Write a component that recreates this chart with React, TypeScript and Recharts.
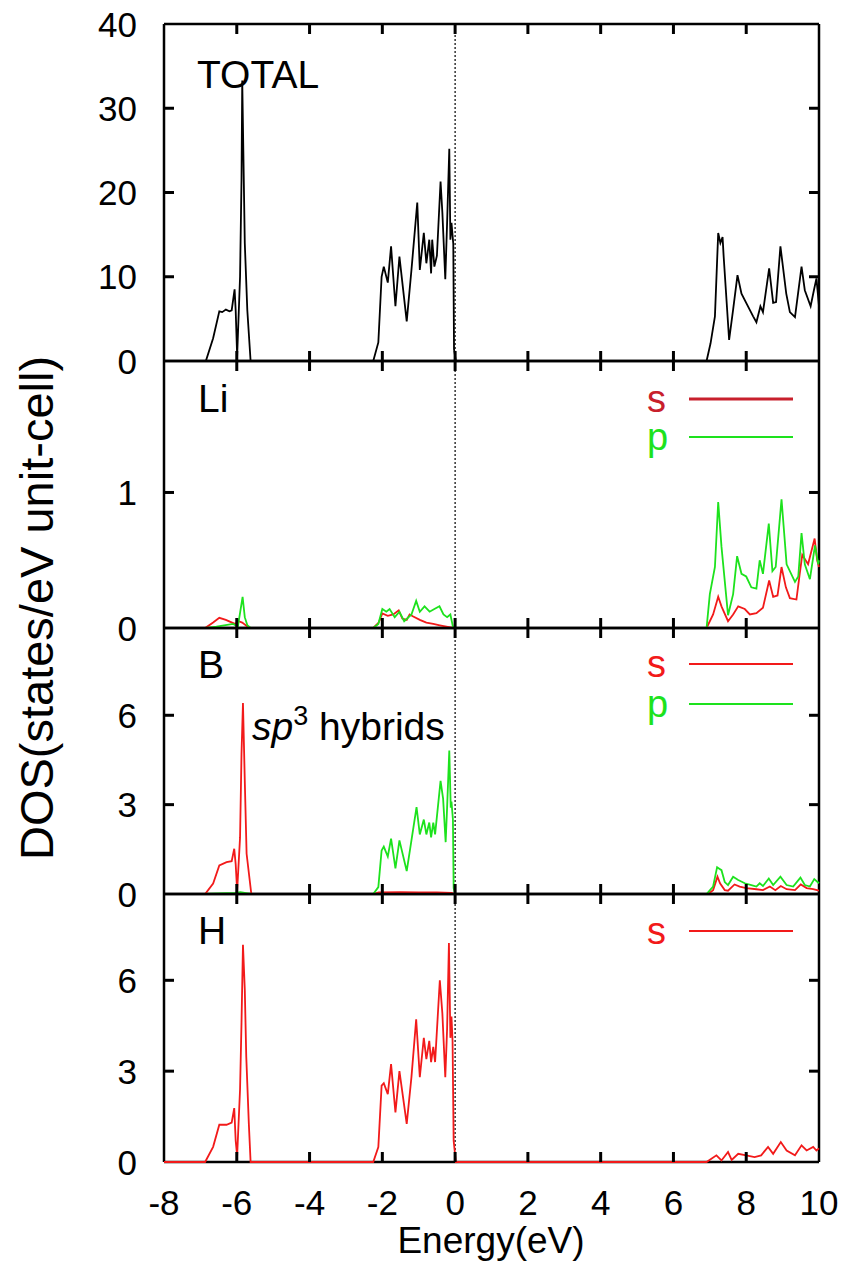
import { LineChart, Line, XAxis, YAxis, ReferenceLine } from 'recharts';

type Pt = [number, number];

// energy axis (eV)
const energyTicks = [-8, -6, -4, -2, 0, 2, 4, 6, 8, 10];
const totalTicks = [0, 10, 20, 30, 40];
const liTicks = [0, 1];
const bTicks = [0, 3, 6];
const hTicks = [0, 3, 6];

// total DOS [energy, states/eV]
const totalDos: Pt[] = [
  [-8, 0], [-6.85, 0], [-6.65, 2.7], [-6.48, 5.9], [-6.4, 5.8], [-6.3, 6.1], [-6.2, 5.9], [-6.14, 6.0],
  [-6.06, 8.5], [-6.03, 6.0], [-5.99, 0.6], [-5.91, 10], [-5.87, 21.5], [-5.85, 33.3], [-5.82, 25], [-5.78, 14],
  [-5.71, 6], [-5.62, 0], [-2.25, 0], [-2.11, 2.2], [-2.02, 10], [-1.96, 11.2], [-1.85, 9.3], [-1.76, 13.6],
  [-1.64, 6.5], [-1.53, 12.4], [-1.33, 4.7], [-1.2, 10.8], [-1.04, 18.8], [-0.97, 10.8], [-0.86, 15.2], [-0.79, 11.6],
  [-0.71, 14.4], [-0.66, 10.4], [-0.63, 14.4], [-0.57, 11.2], [-0.5, 12.5], [-0.4, 21.3], [-0.35, 17.6], [-0.27, 9.7],
  [-0.22, 16.4], [-0.16, 25.2], [-0.13, 14.4], [-0.1, 16.4], [-0.05, 13.9], [-0.03, 1.4], [0.02, 0], [6.91, 0],
  [7.02, 2.1], [7.14, 5.3], [7.23, 15.2], [7.29, 14], [7.35, 14.7], [7.38, 12.4], [7.53, 2.5], [7.64, 6.1],
  [7.76, 10.2], [7.87, 8], [8.01, 6.8], [8.19, 5.3], [8.28, 4.6], [8.39, 6.5], [8.46, 5.8], [8.63, 11],
  [8.74, 6.9], [8.82, 7], [8.94, 13.6], [9.1, 8], [9.2, 5.8], [9.34, 5.2], [9.52, 11.2], [9.61, 8.4],
  [9.77, 6.5], [9.86, 8.4], [9.93, 9.8], [10, 6.5],
];

const liS: Pt[] = [
  [-8, 0], [-6.87, 0], [-6.65, 0.04], [-6.48, 0.075], [-6.3, 0.06], [-6.05, 0.03], [-5.95, 0.05], [-5.85, 0.04],
  [-5.7, 0.01], [-5.62, 0], [-2.25, 0], [-2.1, 0.04], [-2.0, 0.107], [-1.85, 0.09], [-1.7, 0.1], [-1.55, 0.13],
  [-1.45, 0.07], [-1.33, 0.06], [-1.25, 0.1], [-1.15, 0.085], [-0.97, 0.06], [-0.79, 0.04], [-0.6, 0.03], [-0.42, 0.02],
  [-0.24, 0.01], [-0.05, 0], [6.91, 0], [7.09, 0.1], [7.23, 0.23], [7.32, 0.16], [7.5, 0.05], [7.64, 0.1],
  [7.78, 0.16], [7.96, 0.14], [8.1, 0.1], [8.28, 0.11], [8.46, 0.15], [8.63, 0.35], [8.74, 0.23], [8.86, 0.24],
  [8.97, 0.45], [9.09, 0.3], [9.2, 0.22], [9.38, 0.21], [9.47, 0.4], [9.54, 0.54], [9.7, 0.47], [9.88, 0.66],
  [9.95, 0.5], [10, 0.45],
];

const liP: Pt[] = [
  [-8, 0], [-6.85, 0], [-6.56, 0.01], [-6.1, 0.03], [-5.97, 0.01], [-5.84, 0.23], [-5.78, 0.08], [-5.71, 0.02],
  [-5.62, 0], [-2.25, 0], [-2.11, 0.03], [-2.0, 0.14], [-1.89, 0.12], [-1.8, 0.14], [-1.66, 0.08], [-1.53, 0.12],
  [-1.4, 0.05], [-1.2, 0.1], [-1.07, 0.2], [-0.97, 0.12], [-0.84, 0.16], [-0.7, 0.12], [-0.57, 0.14], [-0.43, 0.16],
  [-0.32, 0.1], [-0.22, 0.08], [-0.13, 0.1], [-0.06, 0.01], [0, 0], [6.91, 0], [7.0, 0.25], [7.14, 0.45],
  [7.23, 0.93], [7.32, 0.6], [7.5, 0.094], [7.64, 0.25], [7.75, 0.53], [7.87, 0.4], [8.0, 0.38], [8.14, 0.3],
  [8.28, 0.29], [8.37, 0.5], [8.46, 0.4], [8.62, 0.77], [8.72, 0.42], [8.81, 0.45], [8.97, 0.95], [9.11, 0.47],
  [9.34, 0.34], [9.43, 0.38], [9.52, 0.7], [9.61, 0.47], [9.75, 0.36], [9.89, 0.61], [9.98, 0.47], [10, 0.5],
];

const bS: Pt[] = [
  [-8, 0], [-6.87, 0], [-6.65, 0.35], [-6.48, 0.96], [-6.28, 1.07], [-6.14, 1.1], [-6.07, 1.52], [-6.03, 1.0],
  [-5.99, 0.1], [-5.91, 1.9], [-5.87, 4.7], [-5.83, 6.41], [-5.78, 3.8], [-5.73, 1.35], [-5.6, 0], [-2.25, 0],
  [-2.1, 0.05], [-1.5, 0.06], [-1.0, 0.05], [-0.5, 0.05], [-0.1, 0.04], [0, 0], [6.95, 0], [7.09, 0.13],
  [7.21, 0.58], [7.28, 0.36], [7.41, 0.13], [7.5, 0.11], [7.68, 0.32], [7.82, 0.25], [8.0, 0.2], [8.28, 0.16],
  [8.46, 0.13], [8.65, 0.25], [8.8, 0.13], [8.95, 0.27], [9.11, 0.16], [9.34, 0.13], [9.5, 0.32], [9.66, 0.2],
  [9.84, 0.16], [10, 0.11],
];

const bP: Pt[] = [
  [-8, 0], [-6.9, 0], [-6.5, 0.02], [-6.05, 0.04], [-5.9, 0.06], [-5.7, 0.02], [-5.6, 0], [-2.25, 0],
  [-2.11, 0.23], [-2.02, 1.46], [-1.96, 1.59], [-1.85, 1.26], [-1.76, 1.86], [-1.64, 0.86], [-1.53, 1.8], [-1.33, 0.77],
  [-1.2, 1.8], [-1.06, 2.92], [-0.97, 2.0], [-0.86, 2.5], [-0.79, 2.0], [-0.71, 2.4], [-0.66, 1.9], [-0.6, 2.4],
  [-0.55, 2.0], [-0.4, 3.8], [-0.33, 3.2], [-0.26, 1.74], [-0.22, 2.9], [-0.16, 4.82], [-0.12, 2.9], [-0.1, 3.1],
  [-0.06, 2.5], [-0.04, 0.2], [0, 0], [6.91, 0], [7.09, 0.25], [7.2, 0.9], [7.26, 0.85], [7.32, 0.8],
  [7.41, 0.4], [7.5, 0.3], [7.64, 0.58], [7.78, 0.47], [7.96, 0.36], [8.14, 0.3], [8.28, 0.25], [8.37, 0.36],
  [8.46, 0.27], [8.62, 0.52], [8.74, 0.3], [8.94, 0.58], [9.11, 0.3], [9.29, 0.25], [9.49, 0.55], [9.61, 0.3],
  [9.75, 0.25], [9.87, 0.5], [10, 0.36],
];

const hS: Pt[] = [
  [-8, 0], [-6.87, 0], [-6.65, 0.5], [-6.48, 1.23], [-6.28, 1.23], [-6.14, 1.3], [-6.07, 1.78], [-6.03, 0.7],
  [-5.99, 0.2], [-5.91, 2.4], [-5.87, 4.6], [-5.83, 7.17], [-5.78, 5.7], [-5.74, 3.5], [-5.67, 1.3], [-5.62, 0],
  [-2.25, 0], [-2.11, 0.49], [-2.02, 2.52], [-1.96, 2.6], [-1.85, 2.24], [-1.76, 3.23], [-1.64, 1.64], [-1.53, 3.0],
  [-1.33, 1.26], [-1.2, 2.8], [-1.07, 4.71], [-0.97, 2.8], [-0.86, 4.1], [-0.79, 3.4], [-0.71, 4.0], [-0.66, 3.3],
  [-0.6, 3.8], [-0.55, 3.3], [-0.42, 6.0], [-0.35, 4.9], [-0.27, 2.8], [-0.22, 4.4], [-0.17, 7.23], [-0.13, 4.1],
  [-0.1, 4.8], [-0.07, 4.0], [-0.04, 0.7], [0.02, 0], [6.91, 0], [7.18, 0.22], [7.32, 0.05], [7.5, 0.33],
  [7.6, 0.07], [7.78, 0.27], [8.0, 0.22], [8.23, 0.16], [8.41, 0.22], [8.6, 0.5], [8.74, 0.27], [8.95, 0.66],
  [9.11, 0.38], [9.34, 0.22], [9.52, 0.55], [9.66, 0.38], [9.84, 0.5], [9.93, 0.38], [10, 0.45],
];

const RED = '#f21a1a';
const GREEN = '#1de21d';
const FONT = '"Liberation Sans", Arial, Helvetica, sans-serif';
const W = 844;
const LEFT = 164;
const RIGHT = 819;
const AXIS_H = 20; // axis band (must be > 0 or recharts skips the axis)
const AXIS_W = 30;
const TICK_LEN = 10;

const rows = (pts: Pt[]) => pts.map(([e, d]) => ({ e, d }));

// inward ticks on bottom + top edge, label under the bottom one if asked
function XTick(props: any) {
  const { x, y, payload, plotH, showLabel } = props;
  const v = payload.value;
  const inner = v > -8 && v < 10;
  return (
    <g>
      {inner && <line x1={x} x2={x} y1={y} y2={y - TICK_LEN} stroke="#000" strokeWidth={3} />}
      {inner && <line x1={x} x2={x} y1={y - plotH} y2={y - plotH + TICK_LEN} stroke="#000" strokeWidth={3} />}
      {showLabel && (
        <text x={x} y={y + 53} textAnchor="middle" fontSize={35} fontFamily={FONT} fill="#000">{v}</text>
      )}
    </g>
  );
}

// inward ticks on left + right edge, label to the left
function YTick(props: any) {
  const { x, y, payload, plotW, yMax } = props;
  const v = payload.value;
  const inner = v > 0 && v < yMax;
  return (
    <g>
      {inner && <line x1={x} x2={x + TICK_LEN} y1={y} y2={y} stroke="#000" strokeWidth={3} />}
      {inner && <line x1={x + plotW} x2={x + plotW - TICK_LEN} y1={y} y2={y} stroke="#000" strokeWidth={3} />}
      <text x={x - 27} y={y + 12.5} textAnchor="end" fontSize={35} fontFamily={FONT} fill="#000">{v}</text>
    </g>
  );
}

type Series = { name: string; pts: Pt[]; color: string };

function Panel({ top, bottom, yMax, yTicks, series, showXLabels }: {
  top: number; bottom: number; yMax: number; yTicks: number[]; series: Series[]; showXLabels?: boolean;
}) {
  const padTop = 20;
  const padBottom = showXLabels ? 70 : 24;
  const plotH = bottom - top;
  const plotW = RIGHT - LEFT;
  const frame = { stroke: '#000', strokeWidth: 2.5 };
  return (
    <div style={{ position: 'absolute', left: 0, top: top - padTop }}>
      <LineChart
        width={W}
        height={plotH + padTop + padBottom}
        margin={{ top: padTop, bottom: padBottom - AXIS_H, left: LEFT - AXIS_W, right: W - RIGHT }}
      >
        <XAxis
          type="number" dataKey="e" domain={[-8, 10]} ticks={energyTicks} interval={0}
          height={AXIS_H} axisLine={false} tickLine={false} tickSize={0} tickMargin={0}
          tick={(p: any) => <XTick {...p} plotH={plotH} showLabel={showXLabels} />}
        />
        <YAxis
          type="number" domain={[0, yMax]} ticks={yTicks} interval={0}
          width={AXIS_W} axisLine={false} tickLine={false} tickSize={0} tickMargin={0}
          tick={(p: any) => <YTick {...p} plotW={plotW} yMax={yMax} />}
        />
        <ReferenceLine x={-8} {...frame} />
        <ReferenceLine x={10} {...frame} />
        <ReferenceLine y={0} {...frame} />
        <ReferenceLine y={yMax} {...frame} />
        <ReferenceLine x={0} stroke="#000" strokeWidth={1.2} strokeDasharray="2 2" />
        {series.map((s) => (
          <Line
            key={s.name}
            data={rows(s.pts)}
            dataKey="d"
            name={s.name}
            type="linear"
            stroke={s.color}
            strokeWidth={1.8}
            dot={false}
            isAnimationActive={false}
          />
        ))}
      </LineChart>
    </div>
  );
}

function LegendRow({ y, label, color, width = 2.2 }: { y: number; label: string; color: string; width?: number }) {
  return (
    <g>
      <text x={647} y={y + 13} fontSize={38} fontFamily={FONT} fill={color}>{label}</text>
      <line x1={689} x2={793} y1={y} y2={y} stroke={color} strokeWidth={width} />
    </g>
  );
}

export default function App() {
  return (
    <div style={{ position: 'absolute', left: 0, top: 0, width: W, height: 1264, background: '#fff' }}>
      <Panel top={24} bottom={361} yMax={40} yTicks={totalTicks} series={[{ name: 'total', pts: totalDos, color: '#000' }]} />
      <Panel top={361} bottom={628} yMax={1.97} yTicks={liTicks} series={[{ name: 's', pts: liS, color: RED }, { name: 'p', pts: liP, color: GREEN }]} />
      <Panel top={628} bottom={894} yMax={8.93} yTicks={bTicks} series={[{ name: 's', pts: bS, color: RED }, { name: 'p', pts: bP, color: GREEN }]} />
      <Panel top={894} bottom={1162} yMax={8.85} yTicks={hTicks} series={[{ name: 's', pts: hS, color: RED }]} showXLabels />
      <svg width={W} height={1264} style={{ position: 'absolute', left: 0, top: 0, pointerEvents: 'none' }}>
        <g fontFamily={FONT} fill="#000">
          <text x={197} y={88} fontSize={39}>TOTAL</text>
          <text x={198} y={412} fontSize={39}>Li</text>
          <text x={198} y={678} fontSize={39}>B</text>
          <text x={198} y={944} fontSize={39}>H</text>
          <text x={252} y={740} fontSize={39}>
            <tspan fontStyle="italic">sp</tspan>
            <tspan fontSize={27} dy={-15}>3</tspan>
            <tspan dy={15}> hybrids</tspan>
          </text>
          <text x={491} y={1253} fontSize={37} textAnchor="middle">Energy(eV)</text>
          <text x={53} y={608} fontSize={47} textAnchor="middle" transform="rotate(-90 53 608)">DOS(states/eV unit-cell)</text>
        </g>
        <LegendRow y={399} label="s" color="#c8202c" width={2.8} />
        <LegendRow y={437} label="p" color={GREEN} />
        <LegendRow y={664} label="s" color={RED} />
        <LegendRow y={704} label="p" color={GREEN} />
        <LegendRow y={931} label="s" color={RED} />
      </svg>
    </div>
  );
}
